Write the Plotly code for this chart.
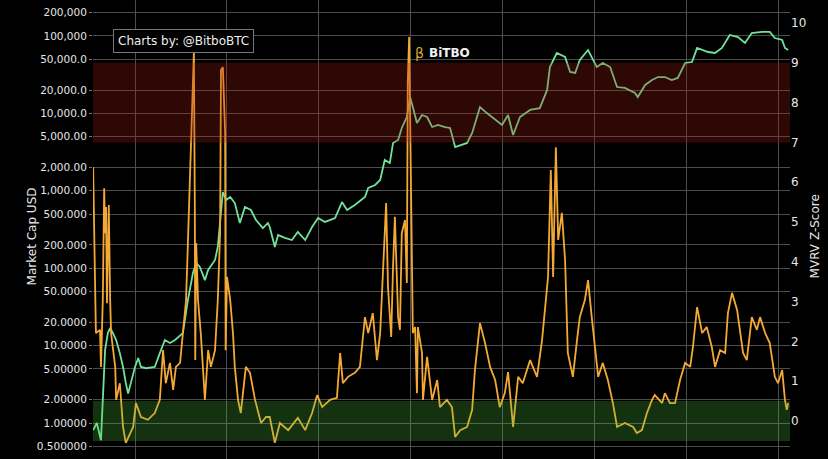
import plotly.graph_objects as go

# ---- data (decimal year, value) ----
price_years = [2011.09, 2011.17, 2011.26, 2011.30, 2011.35, 2011.41, 2011.46, 2011.52, 2011.59, 2011.67,
               2011.74, 2011.80, 2011.85, 2011.91, 2012.00, 2012.07, 2012.13, 2012.24, 2012.43, 2012.54,
               2012.65, 2012.76, 2012.87, 2013.04, 2013.15, 2013.26, 2013.33, 2013.41, 2013.52, 2013.59,
               2013.74, 2013.80, 2013.87, 2013.91, 2013.98, 2014.07, 2014.17, 2014.28, 2014.39, 2014.52,
               2014.63, 2014.78, 2014.89, 2014.93, 2015.04, 2015.11, 2015.26, 2015.41, 2015.54, 2015.70,
               2015.85, 2015.98, 2016.13, 2016.35, 2016.50, 2016.61, 2016.78, 2017.00, 2017.07, 2017.22,
               2017.33, 2017.43, 2017.54, 2017.61, 2017.72, 2017.80, 2017.91, 2017.98, 2018.04, 2018.13,
               2018.24, 2018.35, 2018.46, 2018.59, 2018.74, 2018.85, 2018.96, 2019.07, 2019.22, 2019.33,
               2019.50, 2019.65, 2019.78, 2019.98, 2020.11, 2020.22, 2020.37, 2020.59, 2020.80, 2020.96,
               2021.02, 2021.17, 2021.35, 2021.46, 2021.57, 2021.67, 2021.85, 2022.04, 2022.17, 2022.33,
               2022.48, 2022.65, 2022.87, 2022.93, 2023.09, 2023.24, 2023.37, 2023.52, 2023.67, 2023.80,
               2023.96, 2024.11, 2024.22, 2024.33, 2024.46, 2024.61, 2024.76, 2024.93, 2025.11, 2025.26,
               2025.41, 2025.63, 2025.80, 2025.91, 2026.07, 2026.13, 2026.20]
price_values = [0.81, 1.0, 0.60, 1.98, 8.8, 14.5, 16.9, 14.5, 11.8, 8.0,
                5.3, 3.3, 2.4, 3.3, 5.3, 6.9, 5.3, 5.1, 5.3, 8.0,
                11.8, 10.8, 11.8, 14.5, 38.8, 86.7, 117, 104, 70, 95,
                128, 188, 618, 964, 761, 832, 695, 384, 618, 565,
                420, 330, 384, 341, 188, 268, 246, 231, 294, 231,
                341, 445, 396, 445, 716, 565, 656, 832, 1087, 1189,
                1380, 2500, 2286, 4150, 4530, 6480, 8980, 16300, 12100, 7510,
                9530, 8980, 6670, 7080, 6670, 6480, 3680, 3910, 4150, 5580,
                12100, 10100, 8730, 7080, 9530, 5260, 8980, 11100, 11700, 20100,
                39700, 60300, 53500, 34300, 33300, 49000, 65900, 39700, 44800, 39700,
                21900, 21300, 18400, 16300, 23300, 27000, 29500, 29500, 27000, 28700,
                44800, 46100, 70000, 65900, 62100, 60300, 70000, 103000, 97000, 81200,
                109000, 113000, 113000, 94200, 88800, 70000, 65900]

z_years = [2011.09, 2011.13, 2011.15, 2011.24, 2011.26, 2011.30, 2011.33, 2011.35, 2011.37, 2011.39,
           2011.43, 2011.46, 2011.48, 2011.57, 2011.59, 2011.67, 2011.74, 2011.80, 2011.89, 2011.96,
           2012.02, 2012.13, 2012.28, 2012.43, 2012.54, 2012.61, 2012.67, 2012.76, 2012.83, 2012.89,
           2012.98, 2013.04, 2013.11, 2013.15, 2013.20, 2013.24, 2013.28, 2013.30, 2013.31, 2013.33,
           2013.37, 2013.43, 2013.52, 2013.59, 2013.65, 2013.74, 2013.80, 2013.85, 2013.87, 2013.91,
           2013.96, 2013.97, 2014.00, 2014.07, 2014.13, 2014.17, 2014.24, 2014.30, 2014.41, 2014.50,
           2014.61, 2014.74, 2014.85, 2014.93, 2015.04, 2015.15, 2015.33, 2015.54, 2015.70, 2015.85,
           2015.96, 2016.07, 2016.24, 2016.39, 2016.46, 2016.52, 2016.63, 2016.78, 2016.89, 2017.00,
           2017.07, 2017.17, 2017.26, 2017.33, 2017.39, 2017.46, 2017.50, 2017.57, 2017.61, 2017.65,
           2017.72, 2017.76, 2017.80, 2017.87, 2017.91, 2017.93, 2017.96, 2017.98, 2018.02, 2018.04,
           2018.09, 2018.13, 2018.15, 2018.24, 2018.26, 2018.35, 2018.46, 2018.57, 2018.63, 2018.78,
           2018.89, 2018.96, 2019.07, 2019.22, 2019.33, 2019.39, 2019.50, 2019.61, 2019.72, 2019.83,
           2019.93, 2020.04, 2020.11, 2020.22, 2020.33, 2020.43, 2020.59, 2020.74, 2020.85, 2020.91,
           2020.98, 2021.04, 2021.09, 2021.15, 2021.20, 2021.28, 2021.35, 2021.41, 2021.52, 2021.61,
           2021.67, 2021.78, 2021.85, 2021.93, 2022.00, 2022.07, 2022.17, 2022.28, 2022.39, 2022.48,
           2022.65, 2022.83, 2022.91, 2023.02, 2023.13, 2023.24, 2023.30, 2023.46, 2023.52, 2023.63,
           2023.74, 2023.85, 2023.96, 2024.07, 2024.13, 2024.22, 2024.33, 2024.43, 2024.54, 2024.61,
           2024.72, 2024.83, 2024.89, 2024.98, 2025.09, 2025.22, 2025.30, 2025.41, 2025.52, 2025.59,
           2025.70, 2025.80, 2025.91, 2025.98, 2026.07, 2026.13, 2026.17, 2026.20]
z_values = [6.38, 3.04, 2.21, 2.29, 1.36, 3.04, 5.85, 4.72, 5.38, 2.96,
            5.43, 3.04, 2.21, 1.36, 0.53, 0.95, -0.15, -0.55, -0.30, -0.15,
            0.45, 0.10, 0.03, 0.20, 0.53, 1.78, 0.95, 1.46, 0.78, 1.36,
            1.46, 2.21, 3.04, 4.47, 6.23, 8.07, 9.25, 5.55, 1.53, 4.47,
            3.04, 2.21, 0.53, 1.78, 1.36, 1.78, 3.04, 4.72, 8.82, 8.89,
            7.24, 1.78, 3.62, 3.04, 2.21, 1.36, 0.53, 0.20, 1.36, 1.21,
            0.53, -0.05, 0.10, 0.10, -0.55, -0.05, -0.23, 0.08, -0.23, 0.20,
            0.65, 0.35, 0.53, 0.58, 1.71, 0.95, 1.11, 1.21, 1.36, 2.61,
            2.21, 2.71, 1.53, 2.21, 3.87, 5.48, 3.37, 2.11, 3.87, 5.13,
            2.61, 2.29, 4.72, 5.05, 3.47, 8.49, 9.65, 8.07, 4.72, 2.21,
            2.36, 0.70, 2.36, 1.71, 0.53, 1.61, 0.53, 1.03, 0.35, 0.53,
            0.35, -0.40, -0.23, -0.15, 0.28, 1.28, 2.46, 1.96, 1.36, 1.03,
            0.35, 0.70, 1.23, -0.15, 1.11, 0.95, 1.53, 1.11, 2.04, 2.86,
            3.62, 6.31, 3.62, 6.88, 4.55, 5.23, 4.05, 1.71, 1.11, 2.04,
            2.61, 3.04, 3.54, 2.61, 1.78, 1.11, 1.46, 1.03, 0.45, -0.15,
            -0.05, -0.15, -0.30, -0.23, 0.20, 0.53, 0.65, 0.45, 0.70, 0.45,
            0.45, 1.03, 1.46, 1.36, 1.86, 2.86, 2.21, 2.36, 1.86, 1.36,
            1.78, 1.71, 2.71, 3.22, 2.79, 1.71, 1.53, 2.61, 2.29, 2.61,
            2.21, 1.96, 1.11, 0.95, 1.28, 0.53, 0.28, 0.45]

left_tickvals = [0.5, 1, 2, 5, 10, 20, 50, 100, 200, 500, 1000, 2000, 5000, 10000, 20000, 50000, 100000, 200000]
left_ticktext = ["0.500000", "1.00000", "2.00000", "5.00000", "10.0000", "20.0000", "50.0000", "100.000",
                 "200.000", "500.000", "1,000.00", "2,000.00", "5,000.00", "10,000.0", "20,000.0",
                 "50,000.0", "100,000", "200,000"]
right_tickvals = [0, 1, 2, 3, 4, 5, 6, 7, 8, 9, 10]
x_gridvals = [2012, 2014, 2016, 2018, 2020, 2022, 2024, 2026]
red_zone = [7, 9]
green_zone = [-0.5, 0.5]

FONT = "DejaVu Sans"
GRID = "#4d4d4d"

fig = go.Figure()
fig.add_trace(go.Scatter(x=z_years, y=z_values, mode="lines", yaxis="y2",
                         line=dict(color="#f4a935", width=1.8), name="MVRV Z-Score"))
fig.add_trace(go.Scatter(x=price_years, y=price_values, mode="lines", yaxis="y",
                         line=dict(color="#6fe39b", width=1.8), name="Market Cap"))

fig.add_shape(type="rect", xref="paper", yref="y2", x0=0, x1=1, y0=red_zone[0], y1=red_zone[1],
              fillcolor="rgba(170,30,20,0.27)", line=dict(width=0), layer="above")
fig.add_shape(type="rect", xref="paper", yref="y2", x0=0, x1=1, y0=green_zone[0], y1=green_zone[1],
              fillcolor="rgba(85,200,65,0.25)", line=dict(width=0), layer="above")

W, H = 828, 459
L, R = 93, 38

fig.update_layout(
    width=W, height=H,
    margin=dict(l=L, r=R, t=0, b=0),
    paper_bgcolor="black", plot_bgcolor="black",
    showlegend=False,
    font=dict(family=FONT, color="#e0e0e0", size=11),
    xaxis=dict(range=[2011.087, 2026.24], tickvals=x_gridvals, showticklabels=False,
               showgrid=True, gridcolor=GRID, gridwidth=1, zeroline=False, showline=False, ticks=""),
    yaxis=dict(type="log", range=[-0.465, 5.465], tickvals=left_tickvals, ticktext=left_ticktext,
               showgrid=True, gridcolor=GRID, gridwidth=1, zeroline=False,
               ticks="outside", ticklen=3, tickcolor="#777", tickfont=dict(size=10.5, color="#e6e6e6")),
    yaxis2=dict(overlaying="y", side="right", range=[-0.955, 10.58], tickvals=right_tickvals,
                showgrid=False, zeroline=False, ticks="", tickfont=dict(size=12, color="#e6e6e6")),
)

fig.add_annotation(text="Market Cap USD", xref="paper", yref="paper",
                   x=(32 - L) / (W - L - R), y=0.485, textangle=-90, showarrow=False,
                   font=dict(size=12, color="#e6e6e6", family=FONT), xanchor="center", yanchor="middle")
fig.add_annotation(text="MVRV Z-Score", xref="paper", yref="paper",
                   x=(815 - L) / (W - L - R), y=0.485, textangle=-90, showarrow=False,
                   font=dict(size=12, color="#e6e6e6", family=FONT), xanchor="center", yanchor="middle")
fig.add_annotation(text="Charts by: @BitboBTC", xref="paper", yref="paper",
                   x=(183 - L) / (W - L - R), y=1 - 41 / H, showarrow=False,
                   font=dict(size=12, color="#eeeeee", family=FONT),
                   bgcolor="black", bordercolor="#777", borderwidth=1, borderpad=4,
                   xanchor="center", yanchor="middle")
fig.add_annotation(text="β", xref="paper", yref="paper",
                   x=(419 - L) / (W - L - R), y=1 - 53 / H, showarrow=False,
                   font=dict(size=14, color="#d9a62e", family=FONT), xanchor="center", yanchor="middle")
fig.add_annotation(text="<b>BiTBO</b>", xref="paper", yref="paper",
                   x=(427 - L) / (W - L - R), y=1 - 53 / H, showarrow=False,
                   font=dict(size=12, color="#f2f2f2", family=FONT), xanchor="left", yanchor="middle")

fig.write_html("out.html", config={"displayModeBar": False},
               post_script="document.body.style.margin='0';document.body.style.overflow='hidden';")
